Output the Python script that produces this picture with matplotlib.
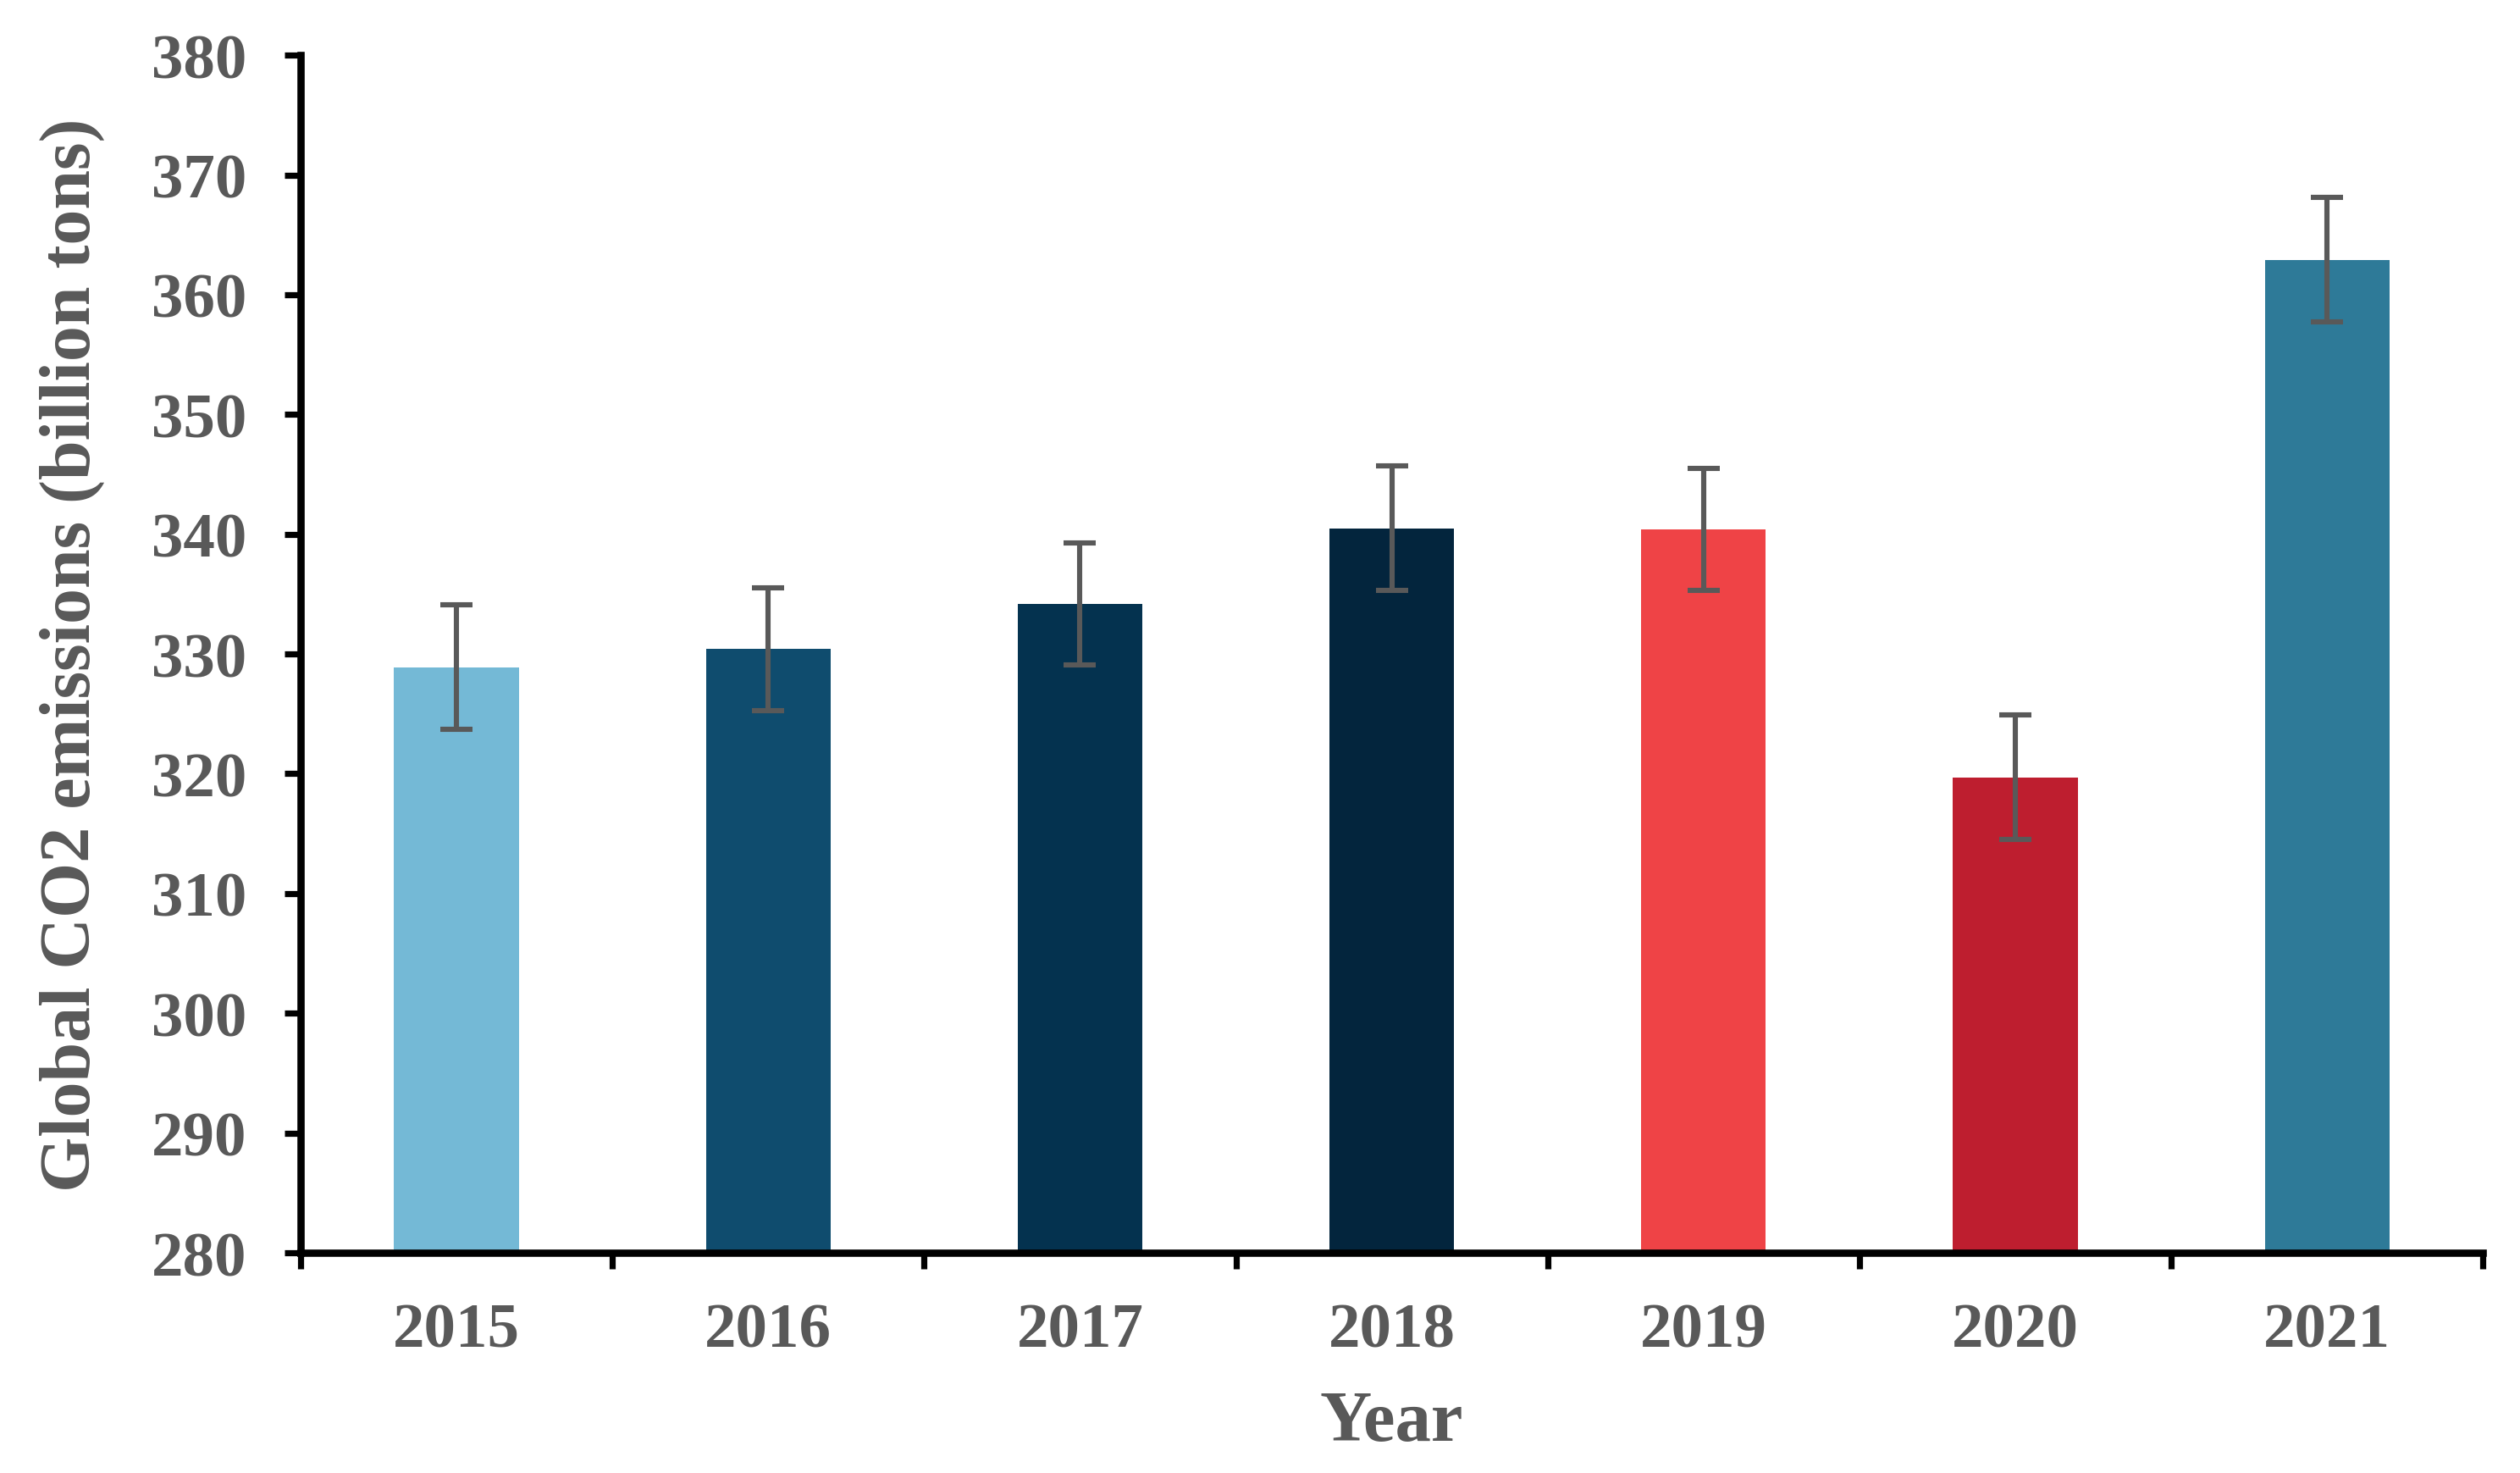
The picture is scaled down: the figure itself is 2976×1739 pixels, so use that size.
import matplotlib
matplotlib.use("Agg")
import matplotlib.pyplot as plt

years = ["2015", "2016", "2017", "2018", "2019", "2020", "2021"]
emissions = [328.9, 330.4, 334.2, 340.5, 340.4, 319.7, 362.9]
errors = [5.2, 5.1, 5.1, 5.2, 5.1, 5.2, 5.2]
colors = ["#74B9D6", "#0F4C6E", "#04324F", "#03253D", "#EF4346", "#BE1E2F", "#2E7A98"]
yticks = [280, 290, 300, 310, 320, 330, 340, 350, 360, 370, 380]

plt.rcParams['font.family'] = 'Liberation Serif'
plt.rcParams['font.weight'] = 'bold'
text_color = "#595959"

fig = plt.figure(figsize=(14.88, 8.7), dpi=200)
ax = fig.add_axes([0.1193, 0.1494, 0.9853 - 0.1193, 0.962 - 0.1494])

x = list(range(len(years)))
ax.bar(x, [e - 280 for e in emissions], bottom=280, width=0.4, color=colors, zorder=2)
ax.errorbar(x, emissions, yerr=errors, fmt='none', ecolor=text_color,
            elinewidth=2.2, capsize=6.8, capthick=2.2, zorder=3)

ax.set_xlim(-0.5, len(years) - 0.5)
ax.set_ylim(280, 380)
ax.set_yticks(yticks)
ax.set_yticklabels([str(v) for v in yticks])

ax.set_xticks([i + 0.5 for i in range(-1, len(years))], minor=False)
ax.set_xticklabels([])
ax.set_xticks(x, minor=True)
ax.set_xticklabels(years, minor=True)
ax.tick_params(axis='x', which='minor', length=0, pad=21, labelsize=27, labelcolor=text_color)
ax.tick_params(axis='x', which='major', direction='out', length=6.8, width=2.6, color='black')
ax.tick_params(axis='y', direction='out', length=6.8, width=2.6, color='black',
               pad=16, labelsize=27, labelcolor=text_color)

for lab in ax.get_xticklabels(minor=True) + ax.get_yticklabels():
    lab.set_fontweight('bold')
    lab.set_family('Liberation Serif')

for s in ['top', 'right']:
    ax.spines[s].set_visible(False)
for s in ['left', 'bottom']:
    ax.spines[s].set_linewidth(3.1)
    ax.spines[s].set_color('black')

ax.set_xlabel("Year", fontsize=30.5, fontweight='bold', color=text_color, labelpad=13,
              family='Liberation Serif')
ax.set_ylabel("Global CO2 emissions (billion tons)", fontsize=30.2, fontweight='bold',
              color=text_color, labelpad=20, family='Liberation Serif')

fig.savefig("out.png", dpi=200)
